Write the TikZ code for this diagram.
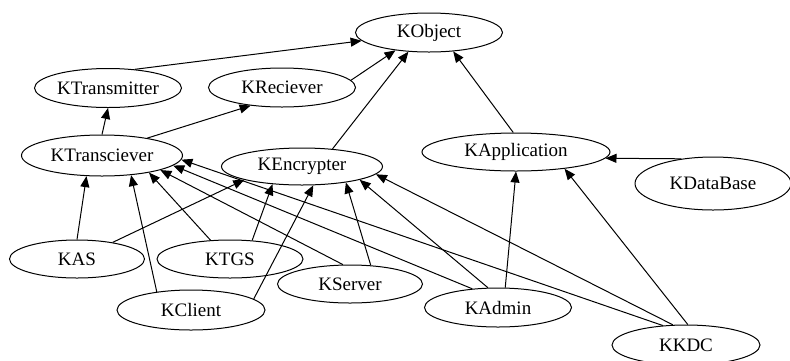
\documentclass[tikz,border=0pt]{standalone}
\usepackage{fontspec}
\setmainfont{Liberation Serif}
\usetikzlibrary{shapes.geometric,arrows.meta}

\begin{document}
\begin{tikzpicture}[x=1pt,y=-1pt]
\tikzset{classe/.style={draw, ellipse, inner sep=0pt, line width=1pt, minimum width=147pt, minimum height=39pt, font=\fontsize{19}{22}\selectfont},
herite/.style={-{Triangle[length=11pt,width=9pt]}, line width=1pt}}
\clip (0, 0) rectangle (790, 360);
\node[classe] (KObject) at (429, 32.5) {KObject};
\node[classe] (KTransmitter) at (108, 88) {KTransmitter};
\node[classe] (KReciever) at (282, 87.5) {KReciever};
\node[classe, minimum width=161pt, minimum height=41pt] (KTransciever) at (102, 155.5) {KTransciever};
\node[classe, minimum width=161pt, minimum height=37pt] (KEncrypter) at (302, 166.5) {KEncrypter};
\node[classe, minimum width=188pt, minimum height=38pt] (KApplication) at (516, 152) {KApplication};
\node[classe, minimum width=156pt, minimum height=53pt] (KDataBase) at (713, 183.5) {KDataBase};
\node[classe, minimum width=135pt, minimum height=38pt] (KAS) at (77, 259) {KAS};
\node[classe, minimum width=146pt, minimum height=38pt] (KTGS) at (230, 259) {KTGS};
\node[classe, minimum width=145pt, minimum height=38pt] (KServer) at (350, 284) {KServer};
\node[classe, minimum width=148pt, minimum height=40pt] (KClient) at (191, 310) {KClient};
\node[classe] (KAdmin) at (498, 307.5) {KAdmin};
\node[classe, minimum width=148pt, minimum height=40pt] (KKDC) at (686, 345) {KKDC};
\draw[herite] (KTransmitter.35) -- (KObject.187);
\draw[herite] (KReciever.6) -- (KObject.208);
\draw[herite] (KEncrypter.30) -- (KObject.223);
\draw[herite] (KApplication.98) -- (KObject.-38);
\draw[herite] (KTransciever.north) -- (KTransmitter.south);
\draw[herite] (KTransciever.21) -- (KReciever.210);
\draw[herite] (KDataBase.142) -- (KApplication.-4);
\draw[herite] (KAS.north) -- (KTransciever.233);
\draw[herite] (KAS.25) -- (KEncrypter.193);
\draw[herite] (KTGS.136) -- (KTransciever.-20);
\draw[herite] (KTGS.40) -- (KEncrypter.211);
\draw[herite] (KClient.152) -- (KTransciever.-34);
\draw[herite] (KClient.10) -- (KEncrypter.-59);
\draw[herite] (KServer.110) -- (KTransciever.-14);
\draw[herite] (KServer.42) -- (KEncrypter.-20);
\draw[herite] (KAdmin.144) -- (KTransciever.-8);
\draw[herite] (KAdmin.117) -- (KEncrypter.-13);
\draw[herite] (KAdmin.70) -- (KApplication.south);
\draw[herite] (KKDC.140) -- (KTransciever.-3);
\draw[herite] (KKDC.123) -- (KEncrypter.-6);
\draw[herite] (KKDC.85) -- (KApplication.-19);
\end{tikzpicture}
\end{document}
